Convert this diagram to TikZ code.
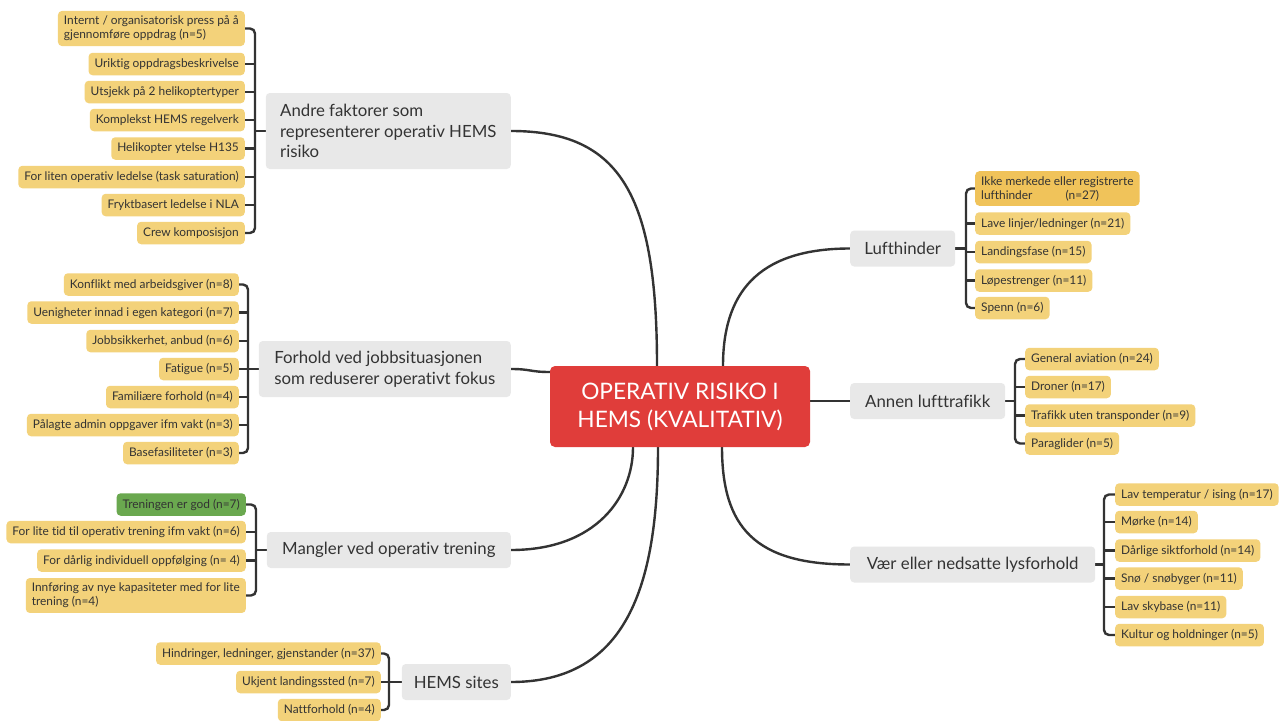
\documentclass[tikz,border=0pt]{standalone}
\usepackage{fontspec}
\setmainfont{Lato}[Ligatures=NoCommon]
\usepackage{tikz}
\usetikzlibrary{calc, backgrounds}
\definecolor{inkgray}{HTML}{333333}
\definecolor{leafamber}{HTML}{F3D27A}
\definecolor{leafgold}{HTML}{F0C35A}
\definecolor{leafgreen}{HTML}{6AA84F}
\definecolor{topicgray}{HTML}{E8E8E8}
\definecolor{rootred}{HTML}{E03D3A}

\begin{document}
\begin{tikzpicture}[x=1pt, y=-1pt, line cap=round,
  leaf/.style={fill=#1, rounded corners=4pt, minimum height=22.5pt, inner xsep=6pt, inner ysep=5pt,
               text=inkgray, align=left, font=\fontsize{11.9}{14}\selectfont},
  leaf/.default=leafamber,
  topic/.style={fill=topicgray, rounded corners=4pt, minimum height=36pt, inner xsep=12pt,
                text=inkgray, align=left, font=\fontsize{16.8}{20.5}\selectfont},
  root/.style={fill=rootred, rounded corners=5pt, minimum width=260pt, minimum height=81pt,
               text=white, align=center, font=\fontsize{22.7}{28}\selectfont},
  br/.style={draw=inkgray, line width=2.4pt, rounded corners=5pt},
  link/.style={draw=inkgray, line width=2.4pt}]
  \useasboundingbox (0,0) rectangle (1279,720);
  % --- centre ---
  \node[root] (root) at (680,406.5) {OPERATIV RISIKO I\\HEMS (KVALITATIV)};
  % --- topics ---
  \node[topic, anchor=east, minimum height=76pt, minimum width=245pt] (tA) at (511,131) {Andre faktorer som\\representerer operativ HEMS\\risiko};
  \node[topic, anchor=east, minimum height=56pt, minimum width=252pt] (tB) at (511,369) {Forhold ved jobbsituasjonen\\som reduserer operativt fokus};
  \node[topic, anchor=east, minimum width=244pt] (tC) at (511,550) {Mangler ved operativ trening};
  \node[topic, anchor=east, minimum width=109pt] (tD) at (511,682) {HEMS sites};
  \node[topic, anchor=west, minimum width=105pt] (tE) at (850,248.5) {Lufthinder};
  \node[topic, anchor=west, minimum width=155pt] (tF) at (850,401) {Annen lufttrafikk};
  \node[topic, anchor=west, minimum width=245pt] (tG) at (850,564.5) {Vær eller nedsatte lysforhold};
  % --- leaves: andre faktorer ---
  \foreach \y/\lab [count=\i from 0] in {28.5/{Internt / organisatorisk press på å\\gjennomføre oppdrag (n=5)},
      64/Uriktig oppdragsbeskrivelse, 92/Utsjekk på 2 helikoptertyper, 120/Komplekst HEMS regelverk,
      148.5/Helikopter ytelse H135, 177/For liten operativ ledelse (task saturation),
      205/Fryktbasert ledelse i NLA, 233/Crew komposisjon}{
    \node[leaf, anchor=east] (a\i) at (245,\y) {\lab};
  }
  % --- leaves: jobbsituasjonen ---
  \foreach \y/\lab [count=\i from 0] in {284.5/Konflikt med arbeidsgiver (n=8), 312.5/Uenigheter innad i egen kategori (n=7),
      341/{Jobbsikkerhet, anbud (n=6)}, 369/Fatigue (n=5), 397/Familiære forhold (n=4),
      425/Pålagte admin oppgaver ifm vakt (n=3), 453/Basefasiliteter (n=3)}{
    \node[leaf, anchor=east] (b\i) at (239,\y) {\lab};
  }
  % --- leaves: trening ---
  \foreach \y/\c/\lab [count=\i from 0] in {504.5/leafgreen/Treningen er god (n=7),
      532/leafamber/For lite tid til operativ trening ifm vakt (n=6),
      560.5/leafamber/For dårlig individuell oppfølging (n= 4),
      595.5/leafamber/{Innføring av nye kapasiteter med for lite\\trening (n=4)}}{
    \node[leaf=\c, anchor=east] (c\i) at (246,\y) {\lab};
  }
  % --- leaves: HEMS sites ---
  \foreach \y/\lab [count=\i from 0] in {653.5/{Hindringer, ledninger, gjenstander (n=37)},
      682/Ukjent landingssted (n=7), 710/Nattforhold (n=4)}{
    \node[leaf, anchor=east] (d\i) at (381,\y) {\lab};
  }
  % --- leaves: lufthinder ---
  \node[leaf=leafgold, anchor=west] (e0) at (975,188.5) {Ikke merkede eller registrerte\\lufthinder\hspace{33pt}(n=27)};
  \foreach \y/\lab [count=\i from 1] in {223.5/{Lave linjer/ledninger (n=21)}, 252/Landingsfase (n=15),
      280.5/Løpestrenger (n=11), 308/Spenn (n=6)}{
    \node[leaf, anchor=west] (e\i) at (975,\y) {\lab};
  }
  % --- leaves: lufttrafikk ---
  \foreach \y/\lab [count=\i from 0] in {359/General aviation (n=24), 387/Droner (n=17),
      415.5/Trafikk uten transponder (n=9), 443.5/Paraglider (n=5)}{
    \node[leaf, anchor=west] (f\i) at (1025,\y) {\lab};
  }
  % --- leaves: vær ---
  \foreach \y/\lab [count=\i from 0] in {494.5/{Lav temperatur / ising (n=17)}, 522/Mørke (n=14),
      550.5/Dårlige siktforhold (n=14), 578.5/{Snø / snøbyger (n=11)}, 607/Lav skybase (n=11),
      635/Kultur og holdninger (n=5)}{
    \node[leaf, anchor=west] (g\i) at (1115,\y) {\lab};
  }
  % --- spines ---
  \coordinate (sA) at ($(tA.west -| a0.east)+(10,0)$);
  \coordinate (sB) at ($(tB.west -| b0.east)+(9,0)$);
  \coordinate (sC) at ($(tC.west -| c0.east)+(10,0)$);
  \coordinate (sD) at ($(tD.west -| d0.east)+(8,0)$);
  \coordinate (sE) at ($(tE.east -| e0.west)+(-9,0)$);
  \coordinate (sF) at ($(tF.east -| f0.west)+(-10,0)$);
  \coordinate (sG) at ($(tG.east -| g0.west)+(-11,0)$);
  \begin{scope}[on background layer]
    \fill[white] (0,0) rectangle (1279,720);
    % brackets
    \draw[br] (a0.east) -| (sA) |- (a7.east);
    \foreach \i in {1,...,6}{\draw[br] (a\i.east) -- (a\i.east -| sA);}
    \draw[br] (tA.west) -- (sA);
    \draw[br] (b0.east) -| (sB) |- (b6.east);
    \foreach \i in {1,...,5}{\draw[br] (b\i.east) -- (b\i.east -| sB);}
    \draw[br] (tB.west) -- (sB);
    \draw[br] (c0.east) -| (sC) |- (c3.east);
    \foreach \i in {1,2}{\draw[br] (c\i.east) -- (c\i.east -| sC);}
    \draw[br] (tC.west) -- (sC);
    \draw[br] (d0.east) -| (sD) |- (d2.east);
    \draw[br] (d1.east) -- (d1.east -| sD);
    \draw[br] (tD.west) -- (sD);
    \draw[br] (e0.west) -| (sE) |- (e4.west);
    \foreach \i in {1,2,3}{\draw[br] (e\i.west) -- (e\i.west -| sE);}
    \draw[br] (tE.east) -- (sE);
    \draw[br] (f0.west) -| (sF) |- (f3.west);
    \foreach \i in {1,2}{\draw[br] (f\i.west) -- (f\i.west -| sF);}
    \draw[br] (tF.east) -- (sF);
    \draw[br] (g0.west) -| (sG) |- (g5.west);
    \foreach \i in {1,...,4}{\draw[br] (g\i.west) -- (g\i.west -| sG);}
    \draw[br] (tG.east) -- (sG);
    % main links
    \draw[link] (tA.east) .. controls +(110,0) and +(0,-170) .. ($(root.north)+(-23,0)$);
    \draw[link] (tB.east) .. controls +(20,0) and +(-20,0) .. ($(root.west)+(0,-34.5)$);
    \draw[link] (tC.east) .. controls +(85,0) and +(0,50) .. ($(root.south)+(-47,0)$);
    \draw[link] (tD.east) .. controls +(115,0) and +(0,140) .. ($(root.south)+(-22,0)$);
    \draw[link] (tE.west) .. controls +(-95,0) and +(0,-70) .. ($(root.north)+(43,0)$);
    \draw[link] (tF.west) -- (tF.west -| root.east);
    \draw[link] (tG.west) .. controls +(-95,0) and +(0,80) .. ($(root.south)+(42,0)$);
  \end{scope}
\end{tikzpicture}
\end{document}
